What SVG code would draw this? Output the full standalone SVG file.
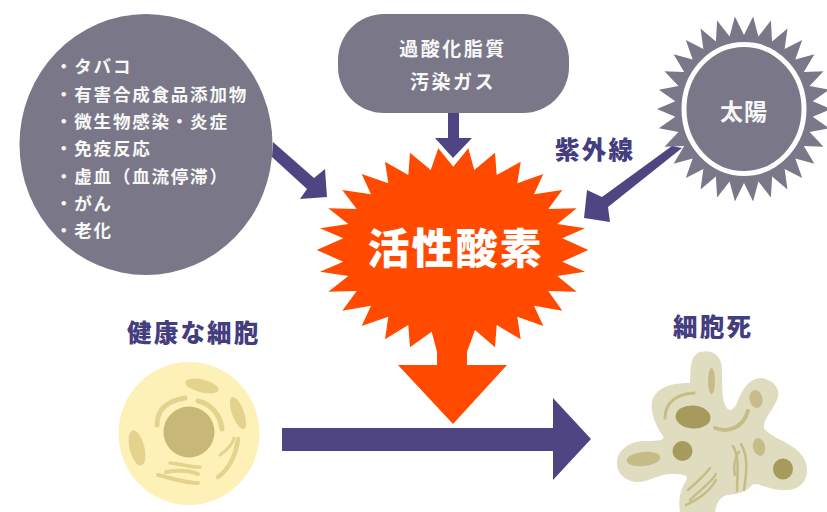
<svg xmlns="http://www.w3.org/2000/svg" width="827" height="512" viewBox="0 0 827 512">
  <style>
    text { font-family: "Noto Sans CJK JP", "Noto Sans CJK SC", sans-serif; font-weight: 700; }
    .plate { fill: #7a7888; }
    .arrow { fill: #504583; }
    .light { fill: #f8f8f8; }
    .mid { text-anchor: middle; }
    .list { font-size: 17.5px; letter-spacing: 1.8px; }
    .plate-label { font-size: 19px; letter-spacing: 2.5px; }
    .heading { fill: #443d80; font-size: 24.5px; letter-spacing: 2.2px; font-weight: 900; }
    .healthy-part { fill: #e3d38e; }
    .healthy-line { fill: none; stroke: #e3d38e; stroke-linecap: round; }
    .dead-part { fill: #c6bc88; }
    .dead-dark { fill: #a69a5c; }
    .dead-line { fill: none; stroke: #c6bc88; stroke-linecap: round; }
  </style>
  <rect width="827" height="512" fill="#ffffff"/>

  <g id="causes">
    <ellipse class="plate" cx="146" cy="144.5" rx="126.5" ry="130.5"/>
    <text class="light list" x="55" y="73">・タバコ</text>
    <text class="light list" x="55" y="101">・有害合成食品添加物</text>
    <text class="light list" x="55" y="128">・微生物感染・炎症</text>
    <text class="light list" x="55" y="155">・免疫反応</text>
    <text class="light list" x="55" y="183">・虚血（血流停滞）</text>
    <text class="light list" x="55" y="210">・がん</text>
    <text class="light list" x="55" y="237">・老化</text>
  </g>

  <g id="oxidants">
    <rect class="plate" x="338" y="14" width="231" height="99" rx="46" ry="46"/>
    <text class="light mid plate-label" x="453" y="56">過酸化脂質</text>
    <text class="light mid plate-label" x="453" y="89">汚染ガス</text>
  </g>

  <g id="sun">
    <polygon class="plate" points="831,109 812.7,101.2 829.1,89.7 809.6,86.1 823.5,71.2 803.8,72 814.4,54.3 795.3,59.5 802.2,39.9 784.6,49.1 787.5,28.5 772.1,41.4 770.9,20.6 758.4,36.6 753.1,16.5 744,35 734.9,16.5 729.6,36.6 717.1,20.6 715.9,41.4 700.5,28.5 703.4,49.1 685.8,39.9 692.7,59.5 673.6,54.3 684.2,72 664.5,71.2 678.4,86.1 658.9,89.7 675.3,101.2 657,109 675.3,116.8 658.9,128.3 678.4,131.9 664.5,146.8 684.2,146 673.6,163.7 692.7,158.5 685.8,178.1 703.4,168.9 700.5,189.5 715.9,176.6 717.1,197.4 729.6,181.4 734.9,201.5 744,183 753.1,201.5 758.4,181.4 770.9,197.4 772.1,176.6 787.5,189.5 784.6,168.9 802.2,178.1 795.3,158.5 814.4,163.7 803.8,146 823.5,146.8 809.6,131.9 829.1,128.3 812.7,116.8"/>
    <ellipse cx="744" cy="109" rx="60" ry="64.5" fill="#7a7888" stroke="#ffffff" stroke-width="5"/>
    <text class="light mid" x="744" y="120" font-size="23" letter-spacing="1">太陽</text>
  </g>

  <g id="connectors">
    <polygon class="arrow" points="448,113 459,113 459,138 472,138 453,158 435,138 448,138"/>
    <polygon class="arrow" points="273,142 314,178 325,169 327,197 300,199 307,189 272,157"/>
    <polygon class="arrow" points="672,146 682,148 608,207 610,222 584,218 587,190 602,197"/>
    <polygon class="arrow" points="282,428 553,428 553,398 591,439 553,480 553,451 282,451"/>
  </g>

  <g id="uv-label">
    <text class="heading" x="555" y="159">紫外線</text>
  </g>

  <g id="reactive-oxygen">
    <polygon fill="#ff4a00" points="453.3,166.7 468.3,148.3 474.3,170 495,152.7 496.7,175 520.7,161.7 517.3,183.3 543.3,174 534,194.3 562.3,190 548.3,209 576.7,208.3 557.3,224 585,228.3 562.3,238.3 588.3,250 562.3,261.7 585,271.7 557.3,276 576.7,291.7 548.3,291 562.3,310.7 534,305.7 543.3,326 517.3,316.7 520.7,339.3 496.7,325 495,347.3 475,330 467,352 467,365 507,365 453,424 398,365 437,365 437,352 431.7,331.7 410,347.3 408.3,325 385,339.3 388.3,316.7 361.7,326 371,305.7 342.3,310.7 356.7,291 328.3,291.7 348.3,276 320,271.7 343.3,261.7 316.7,250 343.3,238.3 320,228.3 348.3,224 328.3,208.3 356.7,209 342.3,190 371,194.3 361.7,174 388.3,183.3 385,161.7 408.3,175 410,152.7 430.7,170 438.3,148.3"/>
    <text class="mid" x="455.5" y="264" fill="#ffffff" font-size="42" letter-spacing="2" style="font-weight:900">活性酸素</text>
  </g>

  <g id="healthy-cell">
    <text class="heading" x="127" y="342">健康な細胞</text>
    <ellipse cx="189" cy="433.5" rx="70.5" ry="71.5" fill="#fdf1b8"/>
    <circle cx="189" cy="432" r="25.5" fill="#c8b878"/>
    <ellipse class="healthy-part" cx="202" cy="386" rx="17" ry="6.5" transform="rotate(14 202 386)"/>
    <ellipse class="healthy-part" cx="238" cy="413" rx="6" ry="17" transform="rotate(-20 238 413)"/>
    <ellipse class="healthy-part" cx="137" cy="448" rx="7.5" ry="18" transform="rotate(-14 137 448)"/>
    <path class="healthy-line" stroke-width="5" d="M157,425 C157,408 168,401 185,398"/>
    <path class="healthy-line" stroke-width="5" d="M198,401 C211,404 220,414 222,429"/>
    <path class="healthy-line" stroke-width="4.5" d="M218,477 C228,470 236,456 238,439"/>
    <path class="healthy-line" stroke-width="3" d="M220,455 C226,450 232,446 234,438"/>
    <path class="healthy-line" stroke-width="4" d="M158,475 C172,478 184,483 198,483"/>
    <path class="healthy-line" stroke-width="4" d="M166,472 C178,470 188,470 198,474"/>
    <path class="healthy-line" stroke-width="3.5" d="M170,463 C182,464 192,468 200,467"/>
  </g>

  <g id="dead-cell">
    <text class="heading" x="673" y="336">細胞死</text>
    <path fill="#dfdcbf" d="M700,352 C712,349 722,355 722,370 C722,385 722,398 725,405 C728,412 733,412 737,403 C741,392 748,378 762,378 C773,380 780,388 778,397 C774,410 762,420 764,428 C768,436 790,442 800,453 C808,462 810,475 802,484 C794,492 780,491 770,488 C762,486 756,482 752,485 C746,492 738,494 728,495 C720,496 716,504 715,512 L680,512 C678,500 680,490 686,481 C690,474 680,474 668,474 C655,476 648,482 638,482 C625,482 616,472 617,462 C618,448 632,441 645,441 C655,441 666,441 663,436 C656,426 650,412 652,402 C655,388 670,383 690,383 C691,370 689,356 700,352 Z"/>
    <ellipse class="dead-part" cx="711.5" cy="381" rx="3.5" ry="13"/>
    <ellipse class="dead-part" cx="756" cy="399" rx="6.5" ry="9" transform="rotate(-12 756 399)"/>
    <ellipse class="dead-part" cx="643.5" cy="459" rx="17" ry="7" transform="rotate(-6 643.5 459)"/>
    <ellipse class="dead-part" cx="759" cy="447" rx="6" ry="9" transform="rotate(-12 759 447)"/>
    <ellipse class="dead-dark" cx="693" cy="417" rx="17.5" ry="11.5" transform="rotate(4 693 417)"/>
    <circle class="dead-dark" cx="682.5" cy="451" r="10"/>
    <ellipse class="dead-dark" cx="783" cy="469" rx="10" ry="10.5"/>
    <path class="dead-line" stroke-width="3" d="M665,418 C665,402 677,394 694,393"/>
    <path class="dead-line" stroke-width="4" d="M715,428 C728,433 743,428 748,411"/>
    <path class="dead-line" stroke-width="2.5" d="M733,446 C740,458 737,474 737,491"/>
    <path class="dead-line" stroke-width="2.5" d="M741,444 C748,456 747,470 744,490"/>
    <path class="dead-line" stroke-width="2.5" d="M735,475 C733,468 735,456 739,452"/>
    <path class="dead-line" stroke-width="2.5" d="M688,490 C695,484 704,476 710,468"/>
    <path class="dead-line" stroke-width="2.5" d="M690,500 C700,490 712,482 716,474"/>
    <path class="dead-line" stroke-width="2.5" d="M686,505 C696,500 708,494 716,480"/>
  </g>
</svg>
